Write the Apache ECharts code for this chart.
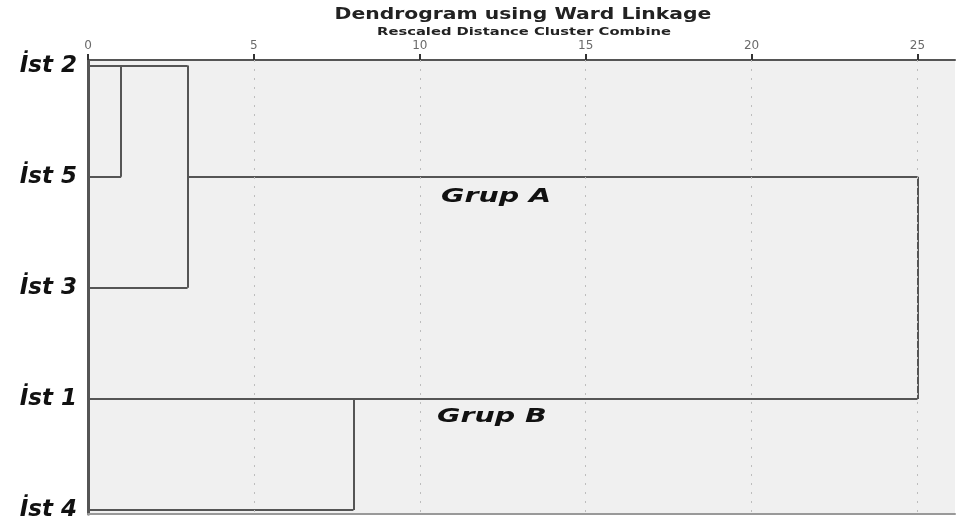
<!DOCTYPE html>
<html>
<head>
<meta charset="utf-8">
<script src="https://cdn.jsdelivr.net/npm/echarts@6/dist/echarts.min.js"></script>
<style>
  html, body { margin: 0; padding: 0; background: #fff; }
  #chart { width: 958px; height: 523px; }
</style>
</head>
<body>
<div id="chart"></div>
<script>
const leaves = ['İst 2', 'İst 5', 'İst 3', 'İst 1', 'İst 4'];
const distTicks = [0, 5, 10, 15, 20, 25];
const gridTicks = [5, 10, 15, 20, 25];
// horizontal branches: [leaf row, from distance, to distance]
const hBranches = [[0, 0, 3], [1, 0, 1], [2, 0, 3], [1, 3, 25], [3, 0, 25], [4, 0, 8]];
// vertical joins: [distance, from row, to row]
const vJoins = [[1, 0, 1], [3, 0, 2], [25, 1, 3], [8, 3, 4]];
const groupNames = ['Grup A', 'Grup B'];
const groupAnchors = [[10.64, 1.18], [10.52, 3.16]];

const segs = [];
hBranches.forEach(([row, a, b]) => segs.push({ coords: [[a, row], [b, row]] }));
vJoins.forEach(([d, r0, r1]) => segs.push({ coords: [[d, r0], [d, r1]] }));

const myChart = echarts.init(document.getElementById('chart'));

const option = {
  animation: false,
  grid: {
    left: 88, right: 3, top: 60, bottom: 9,
    show: true, backgroundColor: '#f0f0f0', borderWidth: 0
  },
  xAxis: [
    {
      type: 'value', position: 'top', min: 0, max: 26.13,
      axisLine: { onZero: false, lineStyle: { color: '#555', width: 2 } },
      axisTick: { show: true, customValues: distTicks, length: 6, lineStyle: { color: '#333', width: 2 } },
      axisLabel: { customValues: distTicks, color: '#6a6a6a', fontSize: 12, fontFamily: 'DejaVu Sans', margin: 8 },
      splitLine: { show: false }
    },
    {
      type: 'value', position: 'bottom', min: 0, max: 26.13,
      axisLine: { onZero: false, lineStyle: { color: '#999', width: 2 } },
      axisTick: { show: false }, axisLabel: { show: false }, splitLine: { show: false }
    }
  ],
  yAxis: {
    type: 'value', inverse: true, min: -0.05, max: 4.036,
    axisLine: { show: true, onZero: false, lineStyle: { color: '#555', width: 3 } },
    axisTick: { show: false },
    splitLine: { show: false },
    axisLabel: {
      customValues: [0, 1, 2, 3, 4],
      formatter: v => leaves[v],
      color: '#111', fontFamily: 'DejaVu Sans', fontWeight: 'bold', fontStyle: 'italic',
      fontSize: 23, margin: 11
    }
  },
  series: [
    {
      type: 'line', data: [], xAxisIndex: 0, z: 1,
      markLine: {
        silent: true, symbol: 'none', label: { show: false },
        lineStyle: { type: [2, 7], color: '#bdbdbd', width: 1 },
        data: gridTicks.map(v => ({ xAxis: v }))
      }
    },
    {
      type: 'lines', coordinateSystem: 'cartesian2d', xAxisIndex: 0, yAxisIndex: 0, z: 3,
      silent: true,
      lineStyle: { color: '#555', width: 2, opacity: 1 },
      data: segs
    }
  ]
};

myChart.setOption(option);

const textEls = [
  {
    type: 'text', x: 523, y: 15, scaleX: 1.27,
    style: { text: 'Dendrogram using Ward Linkage', font: 'bold 16px "DejaVu Sans"', fill: '#222', align: 'center', verticalAlign: 'middle' }
  },
  {
    type: 'text', x: 524, y: 32, scaleX: 1.34,
    style: { text: 'Rescaled Distance Cluster Combine', font: 'bold 11px "DejaVu Sans"', fill: '#222', align: 'center', verticalAlign: 'middle' }
  }
];
groupNames.forEach((name, i) => {
  const p = myChart.convertToPixel({ gridIndex: 0 }, groupAnchors[i]);
  textEls.push({
    type: 'text', x: p[0], y: p[1], scaleX: 1.5,
    style: { text: name, font: 'italic bold 19px "DejaVu Sans"', fill: '#111', align: 'left', verticalAlign: 'middle' }
  });
});
myChart.setOption({ graphic: textEls });
</script>
</body>
</html>
